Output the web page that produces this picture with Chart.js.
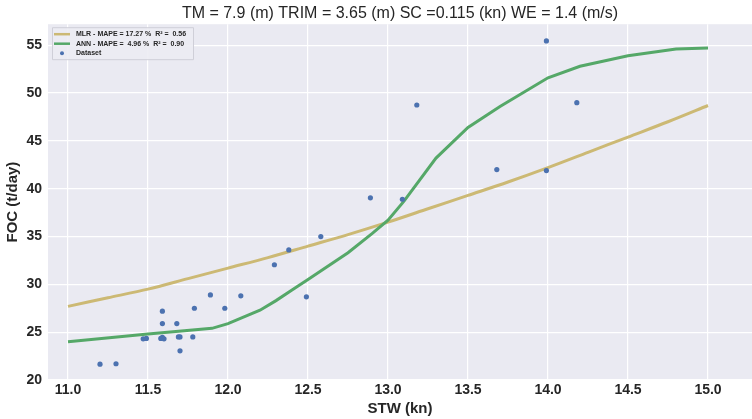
<!DOCTYPE html>
<html>
<head>
<meta charset="utf-8">
<script src="https://cdn.jsdelivr.net/npm/chart.js@4.4.0/dist/chart.umd.min.js"></script>
<style>
  html, body { margin: 0; padding: 0; background: #ffffff; }
  #wrap { width: 752px; height: 419px; }
</style>
</head>
<body>
<div id="wrap"><canvas id="focChart" width="752" height="419"></canvas></div>
<script>
// Chart data
const chartTitle = 'TM = 7.9 (m) TRIM = 3.65 (m) SC =0.115 (kn) WE = 1.4 (m/s)';
const seriesLabels = [
    'MLR - MAPE = 17.27 %  R\u00b2 =  0.56',
    'ANN - MAPE =  4.96 %  R\u00b2 =  0.90',
    'Dataset'
];

const mlrStw = [11.0, 11.25, 11.5, 11.75, 12.0, 12.25, 12.5, 12.75, 13.0, 13.25, 13.5, 13.75, 14.0, 14.25, 14.5, 14.75, 15.0];
const mlrFoc = [27.7, 28.6, 29.5, 30.6, 31.7, 32.8, 34.0, 35.2, 36.5, 37.9, 39.3, 40.7, 42.2, 43.8, 45.4, 47.0, 48.7];

const annStw = [11.0, 11.5, 11.9, 12.0, 12.1, 12.2, 12.3, 12.4, 12.5, 12.75, 12.9, 13.0, 13.1, 13.3, 13.5, 13.7, 14.0, 14.2, 14.5, 14.8, 15.0];
const annFoc = [24.0, 24.8, 25.4, 25.9, 26.6, 27.3, 28.3, 29.4, 30.5, 33.3, 35.3, 36.7, 38.7, 43.2, 46.4, 48.6, 51.6, 52.8, 53.9, 54.6, 54.7];

const dataStw = [11.2, 11.3, 11.47, 11.49, 11.58, 11.59, 11.6, 11.59, 11.59, 11.68, 11.69, 11.7, 11.7, 11.78, 11.79,
                 11.89, 11.98, 12.08, 12.29, 12.38, 12.49, 12.58, 12.89, 13.09, 13.18, 13.68, 13.99, 13.99, 14.18];
const dataFoc = [21.65, 21.7, 24.3, 24.35, 24.35, 24.45, 24.3, 25.9, 27.2, 25.9, 24.5, 24.5, 23.05, 24.5, 27.5,
                 28.9, 27.5, 28.8, 32.05, 33.6, 28.7, 35.0, 39.05, 38.9, 48.75, 42.0, 41.9, 55.45, 49.0];

const xTicks = [11.0, 11.5, 12.0, 12.5, 13.0, 13.5, 14.0, 14.5, 15.0];
const yTicks = [20, 25, 30, 35, 40, 45, 50, 55];

const seriesColors = ['#CCB974', '#55A868', '#4C72B0'];
const FONT = '"Liberation Sans", Arial, sans-serif';

function toPoints(xs, ys) {
    return xs.map((x, i) => ({ x: x, y: ys[i] }));
}

// Axes face colour
const plotBackground = {
    id: 'plotBackground',
    beforeDraw(chart) {
        const { ctx, chartArea } = chart;
        ctx.save();
        ctx.fillStyle = '#EAEAF2';
        ctx.fillRect(chartArea.left, chartArea.top, chartArea.right - chartArea.left, chartArea.bottom - chartArea.top);
        ctx.restore();
    }
};

// Legend drawn inside the plot, upper left (like matplotlib)
const innerLegend = {
    id: 'innerLegend',
    afterDatasetsDraw(chart) {
        const { ctx, chartArea } = chart;
        const x0 = chartArea.left + 4;
        const y0 = chartArea.top + 3;
        const w = 141, h = 32;
        ctx.save();
        ctx.fillStyle = 'rgba(236,236,243,0.9)';
        ctx.strokeStyle = '#cfcfd8';
        ctx.lineWidth = 1;
        ctx.beginPath();
        ctx.rect(x0 + 0.5, y0 + 0.5, w, h);
        ctx.fill();
        ctx.stroke();

        ctx.font = 'bold 7px ' + FONT;
        ctx.textBaseline = 'middle';
        chart.data.datasets.forEach((ds, i) => {
            const rowY = y0 + 7 + i * 9.5;
            if (ds.showLine) {
                ctx.strokeStyle = ds.borderColor;
                ctx.lineWidth = 2.5;
                ctx.beginPath();
                ctx.moveTo(x0 + 2, rowY);
                ctx.lineTo(x0 + 18, rowY);
                ctx.stroke();
            } else {
                ctx.fillStyle = ds.backgroundColor;
                ctx.beginPath();
                ctx.arc(x0 + 10, rowY, 2, 0, Math.PI * 2);
                ctx.fill();
            }
            ctx.fillStyle = '#262626';
            ctx.fillText(ds.label, x0 + 24, rowY);
        });
        ctx.restore();
    }
};

document.addEventListener('DOMContentLoaded', () => {
    const ctx = document.getElementById('focChart');

    new Chart(ctx, {
        type: 'scatter',
        data: {
            datasets: [
                {
                    label: seriesLabels[0],
                    data: toPoints(mlrStw, mlrFoc),
                    showLine: true,
                    borderColor: seriesColors[0],
                    backgroundColor: seriesColors[0],
                    borderWidth: 3,
                    pointRadius: 0,
                    tension: 0.3,
                    order: 2
                },
                {
                    label: seriesLabels[1],
                    data: toPoints(annStw, annFoc),
                    showLine: true,
                    borderColor: seriesColors[1],
                    backgroundColor: seriesColors[1],
                    borderWidth: 3,
                    pointRadius: 0,
                    tension: 0,
                    order: 1
                },
                {
                    label: seriesLabels[2],
                    data: toPoints(dataStw, dataFoc),
                    showLine: false,
                    borderColor: seriesColors[2],
                    backgroundColor: seriesColors[2],
                    borderWidth: 0,
                    pointRadius: 2.6,
                    order: 0
                }
            ]
        },
        options: {
            responsive: false,
            animation: false,
            layout: { autoPadding: false, padding: 0 },
            scales: {
                x: {
                    type: 'linear',
                    min: 10.875,
                    max: 15.275,
                    afterFit: (scale) => {
                        scale.height = 39;
                        scale.paddingLeft = 0;
                        scale.paddingRight = 0;
                    },
                    afterBuildTicks: (scale) => { scale.ticks = xTicks.map(v => ({ value: v })); },
                    ticks: {
                        color: '#262626',
                        font: { family: FONT, size: 14, weight: 'bold' },
                        padding: 2,
                        maxRotation: 0,
                        callback: (v) => Number(v).toFixed(1)
                    },
                    grid: { color: '#ffffff', lineWidth: 1.2, drawTicks: false },
                    border: { display: false },
                    title: {
                        display: true,
                        text: 'STW (kn)',
                        color: '#262626',
                        font: { family: FONT, size: 15, weight: 'bold' },
                        padding: { top: 0, bottom: 1 }
                    }
                },
                y: {
                    type: 'linear',
                    min: 20,
                    max: 57.2,
                    afterFit: (scale) => {
                        scale.width = 48;
                        scale.paddingTop = 0;
                        scale.paddingBottom = 0;
                    },
                    afterBuildTicks: (scale) => { scale.ticks = yTicks.map(v => ({ value: v })); },
                    ticks: {
                        color: '#262626',
                        font: { family: FONT, size: 14, weight: 'bold' },
                        padding: 6
                    },
                    grid: { color: '#ffffff', lineWidth: 1.2, drawTicks: false },
                    border: { display: false },
                    title: {
                        display: true,
                        text: 'FOC (t/day)',
                        color: '#262626',
                        font: { family: FONT, size: 15, weight: 'bold' },
                        padding: { top: 4, bottom: 0 }
                    }
                }
            },
            plugins: {
                title: {
                    display: true,
                    text: chartTitle,
                    fullSize: false,
                    color: '#262626',
                    font: { family: FONT, size: 16, weight: 'normal' },
                    padding: { top: 4, bottom: 1 }
                },
                legend: { display: false },
                tooltip: { enabled: false }
            }
        },
        plugins: [plotBackground, innerLegend]
    });
});
</script>
</body>
</html>
